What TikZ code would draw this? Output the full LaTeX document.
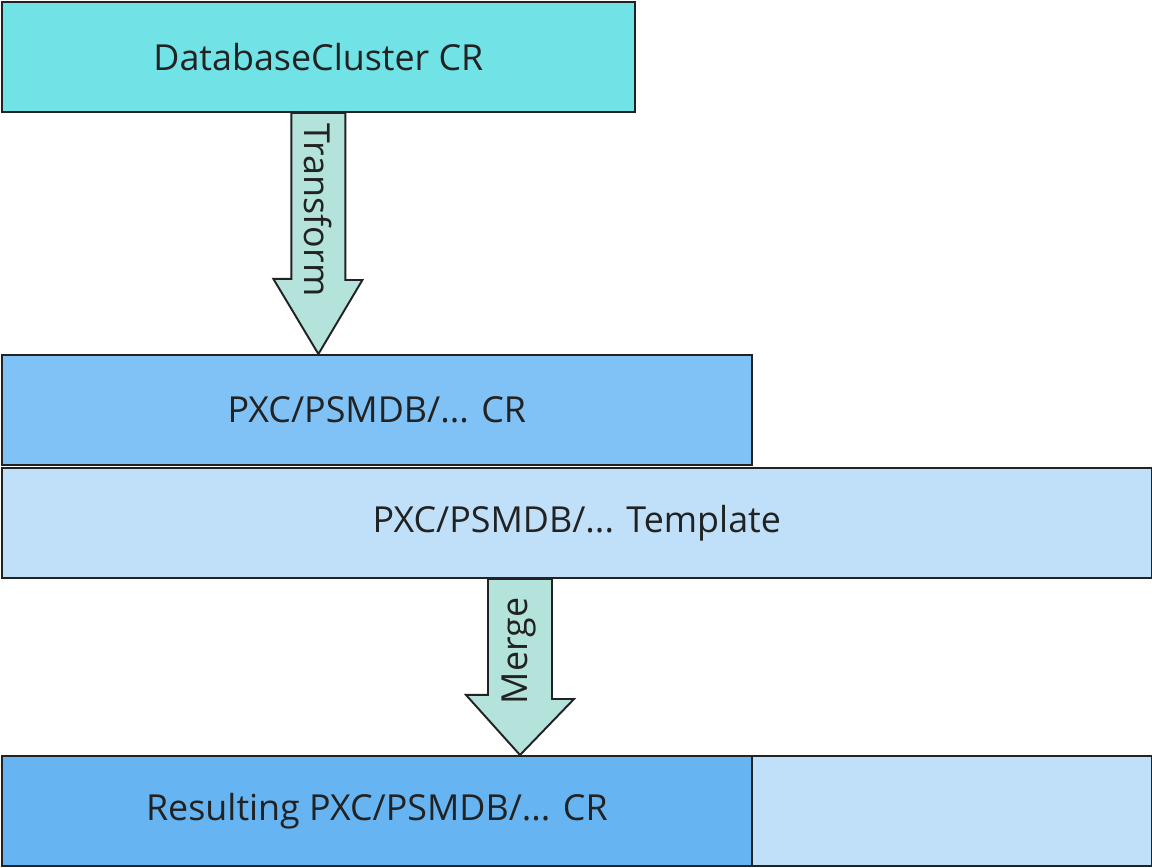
\documentclass[tikz,border=0pt]{standalone}
\usepackage{fontspec}
\setmainfont{Open Sans}
\usetikzlibrary{calc}
\definecolor{clustercyan}{HTML}{71E2E6}
\definecolor{crblue}{HTML}{80C2F5}
\definecolor{templateblue}{HTML}{BFE0F8}
\definecolor{resultblue}{HTML}{66B5F2}
\definecolor{arrowgreen}{HTML}{B3E3DA}
\definecolor{edgegray}{HTML}{222222}
\tikzset{
  layer/.style={draw=edgegray, line width=1.1pt, anchor=north west, inner sep=0pt,
    minimum height=2.2cm, font=\fontsize{20.4}{24}\selectfont, text=edgegray},
  fatarrow/.style={draw=edgegray, fill=arrowgreen, line width=1.1pt, line join=miter},
  arrowtext/.style={font=\fontsize{20.4}{24}\selectfont, text=edgegray, inner sep=0pt}
}

\begin{document}
\begin{tikzpicture}[x=0.02cm, y=-0.02cm]
    \useasboundingbox (0,0) rectangle (1152,867);

    % Layers
    \node[layer, fill=clustercyan, minimum width=12.66cm] (db) at (1,1) {DatabaseCluster CR};
    \node[layer, fill=crblue, minimum width=15cm] (pxc) at (1,354) {PXC/PSMDB/... CR};
    \node[layer, fill=templateblue, minimum width=23cm] (tpl) at (1,467) {PXC/PSMDB/... Template};
    \node[layer, fill=resultblue, minimum width=15cm] (res) at (1,755) {Resulting PXC/PSMDB/... CR};
    \node[layer, fill=templateblue, minimum width=8cm] (rest) at (751,755) {};

    % Transform arrow
    \draw[fatarrow] ($(db.south)+(-27,0)$) -- ++(0,166) -- ++(-18,0)
        -- (db.south |- pxc.north) -- ++(44,-74) -- ++(-17,0)
        -- ($(db.south)+(27,0)$) -- cycle;
    \node[arrowtext, rotate=-90] (transform) at (318,210) {Transform};

    % Merge arrow
    \coordinate (mtop) at ($(tpl.south west)+(519,0)$);
    \draw[fatarrow] ($(mtop)+(-32,0)$) -- ++(0,116) -- ++(-22,0)
        -- (mtop |- res.north) -- ++(54,-56) -- ++(-22,0)
        -- ($(mtop)+(32,0)$) -- cycle;
    \node[arrowtext, rotate=90] (merge) at (519,651) {Merge};
\end{tikzpicture}
\end{document}
